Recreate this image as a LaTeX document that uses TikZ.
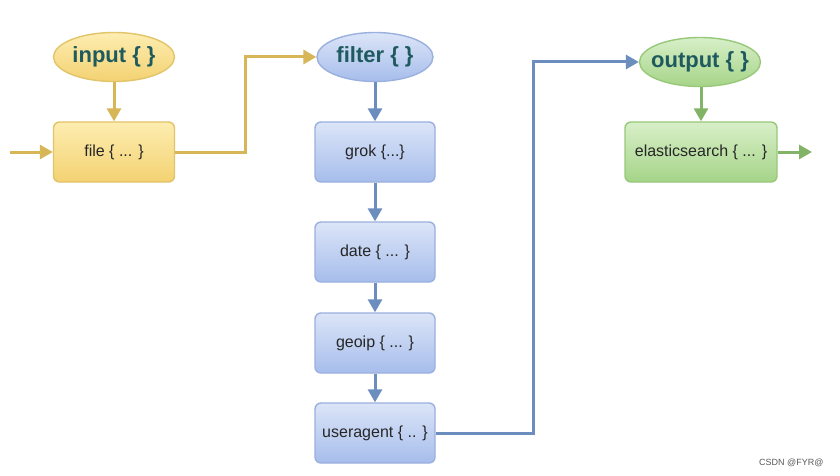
\documentclass[tikz,border=0pt]{standalone}
\usepackage{fontspec}
\setmainfont{Liberation Sans}
\usetikzlibrary{shapes.geometric,arrows.meta}
\definecolor{yfillT}{HTML}{FDEDB0}
\definecolor{yfillB}{HTML}{F3D272}
\definecolor{ydraw}{HTML}{E2C46A}
\definecolor{yarrow}{HTML}{D6B656}
\definecolor{bfillT}{HTML}{DCE5F8}
\definecolor{bfillB}{HTML}{A6BDEB}
\definecolor{bdraw}{HTML}{9AB0DE}
\definecolor{barrow}{HTML}{6C8EBF}
\definecolor{gfillT}{HTML}{D8EFC8}
\definecolor{gfillB}{HTML}{A5D488}
\definecolor{gdraw}{HTML}{98C87A}
\definecolor{garrow}{HTML}{82B366}
\definecolor{headtext}{HTML}{1E5A5E}
\definecolor{boxtext}{HTML}{262626}
\newcommand{\ctrtext}[1]{\makebox[0pt][c]{#1}}
\tikzset{
  x=1pt,y=-1pt,
  headbox/.style={ellipse,draw,line width=1.4pt,minimum width=#1,minimum height=49pt,inner sep=0pt,
     font=\fontsize{22}{24}\bfseries\selectfont,text=headtext},
  stepbox/.style={rectangle,rounded corners=6pt,draw,line width=1.4pt,minimum width=#1,minimum height=60pt,inner sep=0pt,
     font=\fontsize{16}{18}\selectfont,text=boxtext},
  yel/.style={top color=yfillT,bottom color=yfillB,draw=ydraw},
  blu/.style={top color=bfillT,bottom color=bfillB,draw=bdraw},
  grn/.style={top color=gfillT,bottom color=gfillB,draw=gdraw},
  conn/.style={line width=3pt,-{Triangle[width=14pt,length=13pt]}},
}
\begin{document}
\begin{tikzpicture}
\useasboundingbox (0,0) rectangle (840,476);
\fill[white] (0,0) rectangle (840,476);
% input
\node[headbox=121pt,yel] (input) at (114,57) {\ctrtext{input \{ \}}};
\node[stepbox=121pt,yel] (file) at (114,152) {file \{ ... \}};
\coordinate (fin) at (10,152);
% filter
\node[headbox=116pt,blu] (filter) at (375,57) {\ctrtext{filter \{ \}}};
\node[stepbox=120pt,blu] (grok) at (375,152) {grok \{...\}};
\node[stepbox=120pt,blu] (date) at (375,252) {date \{ ... \}};
\node[stepbox=120pt,blu] (geoip) at (375,343) {geoip \{ ... \}};
\node[stepbox=120pt,blu] (ua) at (375,433) {useragent \{ .. \}};
% output
\node[headbox=121pt,grn] (output) at (700,62) {\ctrtext{output \{ \}}};
\node[stepbox=152pt,grn] (es) at (701,152) {elasticsearch \{ ... \}};
\coordinate (eout) at (812,152);
% connectors
\draw[conn,yarrow] (input) -- (file);
\draw[conn,yarrow] (fin) -- (file);
\draw[conn,yarrow] (file.east) -- (245,152) -- (245,57) -- (filter.west);
\draw[conn,barrow] (filter) -- (grok);
\draw[conn,barrow] (grok) -- (date);
\draw[conn,barrow] (date) -- (geoip);
\draw[conn,barrow] (geoip) -- (ua);
\draw[conn,barrow] (ua.east) -- (533,433) -- (533,62) -- (output.west);
\draw[conn,garrow] (output.south -| es.north) -- (es.north);
\draw[conn,garrow] (es.east) -- (eout);
% watermark
\node[font=\fontsize{9}{10}\selectfont,text=black!65,anchor=east] (wm) at (827,463) {CSDN @FYR@};
\end{tikzpicture}
\end{document}
